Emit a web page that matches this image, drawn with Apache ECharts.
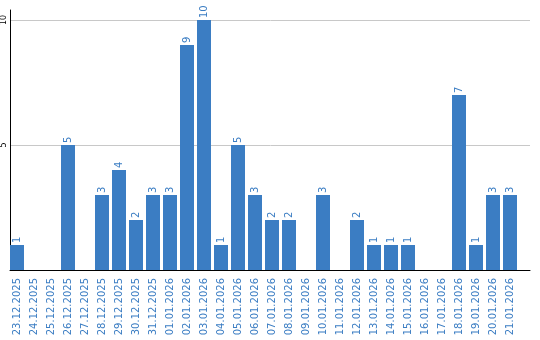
<!DOCTYPE html>
<html><head><meta charset="utf-8">
<script src="https://cdn.jsdelivr.net/npm/echarts@6/dist/echarts.min.js"></script>
<style>html,body{margin:0;padding:0;background:#fff}#c{width:540px;height:340px}</style>
</head><body><div id="c"></div>
<script>
var categories = ['23.12.2025','24.12.2025','25.12.2025','26.12.2025','27.12.2025','28.12.2025','29.12.2025','30.12.2025','31.12.2025','01.01.2026','02.01.2026','03.01.2026','04.01.2026','05.01.2026','06.01.2026','07.01.2026','08.01.2026','09.01.2026','10.01.2026','11.01.2026','12.01.2026','13.01.2026','14.01.2026','15.01.2026','16.01.2026','17.01.2026','18.01.2026','19.01.2026','20.01.2026','21.01.2026'];
var values = [1,0,0,5,0,3,4,2,3,3,9,10,1,5,3,2,2,0,3,0,2,1,1,1,0,0,7,1,3,3];
var yTicks = [0,5,10];

var blue = '#3b7dc3';
var font = 'DejaVu Sans';
var chart = echarts.init(document.getElementById('c'));
chart.setOption({
  animation: false,
  grid: [
    {left: 10, top: 10, width: 520, height: 260},
    {left: 8.5, top: 20, width: 510, height: 250},
    {left: 10, top: 20, width: 520, height: 250}
  ],
  xAxis: [
    {gridIndex: 0, type: 'value', min: 0, max: 1, axisLine: {show: true, lineStyle: {color: '#000', width: 1}}, axisTick: {show: false}, axisLabel: {show: false}, splitLine: {show: false}},
    {gridIndex: 1, type: 'category', data: categories, axisLine: {show: false}, axisTick: {show: false},
      axisLabel: {interval: 0, rotate: 90, margin: 8, color: blue, fontFamily: font, fontSize: 10}},
    {gridIndex: 2, type: 'value', min: 0, max: 1, show: false}
  ],
  yAxis: [
    {gridIndex: 0, type: 'value', min: 0, max: 10.4, axisLine: {show: true, lineStyle: {color: '#000', width: 1}}, axisTick: {show: false}, axisLabel: {show: false}, splitLine: {show: false}},
    {gridIndex: 1, type: 'value', min: yTicks[0], max: yTicks[2], show: false},
    {gridIndex: 2, type: 'value', min: yTicks[0], max: yTicks[2], interval: yTicks[1] - yTicks[0],
      axisLine: {show: false}, axisTick: {show: false},
      axisLabel: {showMinLabel: false, rotate: 90, margin: 3, color: '#000', fontFamily: font, fontSize: 8},
      splitLine: {show: true, lineStyle: {color: '#c8c8c8', width: 1}}}
  ],
  series: [{
    type: 'bar', xAxisIndex: 1, yAxisIndex: 1, data: values, barWidth: 14,
    itemStyle: {color: blue},
    label: {show: true, position: 'top', rotate: 90, align: 'left', verticalAlign: 'middle', distance: 2,
      color: blue, fontFamily: font, fontSize: 10,
      formatter: function (p) { return p.value ? String(p.value) : ''; }}
  }]
});
</script></body></html>
